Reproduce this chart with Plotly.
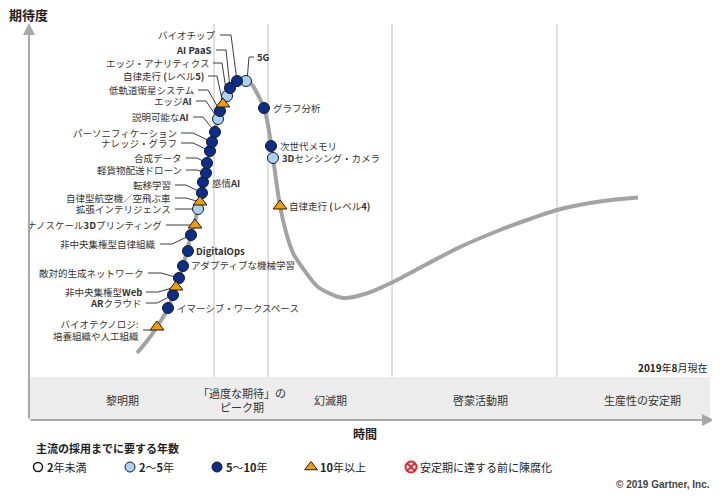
import plotly.graph_objects as go

# ---------------- data (positions, in chart units) ----------------
curve_time = [137, 147, 157, 168, 176, 183, 191, 198, 203, 207, 212, 218, 223, 230, 237, 242, 247, 253,
              258, 264, 268, 273, 280, 286, 293, 302, 318, 343, 368, 393, 427, 460, 495, 527, 557, 590, 615, 638]
curve_expect = [353, 341, 327, 308, 287, 266, 235, 209, 182, 163, 142, 119, 104, 88, 81, 78.5, 80, 86,
                95, 108, 125, 158, 206, 232, 253, 267, 287, 298, 293, 282, 264, 247, 232, 220, 210, 203, 199.5, 197.5]

tech_names = [
    "バイオテクノロジ:<br>培養組織や人工組織", "イマーシブ・ワークスペース", "<b>AR</b>クラウド", "非中央集権型<b>Web</b>",
    "敵対的生成ネットワーク", "アダプティブな機械学習", "<b>DigitalOps</b>", "非中央集権型自律組織",
    "ナノスケール<b>3D</b>プリンティング", "拡張インテリジェンス", "自律型航空機／空飛ぶ車", "転移学習",
    "感情<b>AI</b>", "軽貨物配送ドローン", "合成データ", "ナレッジ・グラフ", "パーソニフィケーション",
    "説明可能な<b>AI</b>", "エッジ<b>AI</b>", "低軌道衛星システム", "自律走行 <b>(</b>レベル<b>5)</b>",
    "エッジ・アナリティクス", "<b>AI PaaS</b>", "バイオチップ", "<b>5G</b>", "グラフ分析", "次世代メモリ",
    "<b>3D</b>センシング・カメラ", "自律走行 <b>(</b>レベル<b>4)</b>",
]
tech_time = [157, 168, 173, 176, 179, 183, 188, 191, 195, 198, 200, 202, 203, 206, 207, 210, 212,
             215, 218, 220, 223, 227, 230, 237, 246, 264, 271, 273, 280]
tech_expect = [327, 308, 295, 287, 278, 266, 251, 235, 225, 209, 202, 193, 182, 173, 163, 151, 142,
               132, 119, 111, 104, 96, 88, 81, 81, 108, 146, 158, 206]
tech_years = ["10+", "5-10", "5-10", "10+", "5-10", "5-10", "5-10", "5-10", "10+", "2-5", "10+", "5-10",
              "5-10", "5-10", "5-10", "5-10", "5-10", "5-10", "2-5", "5-10", "10+", "2-5", "5-10", "5-10",
              "2-5", "5-10", "5-10", "2-5", "10+"]

phase_names = ["黎明期", "「過度な期待」の<br>ピーク期", "幻滅期", "啓蒙活動期", "生産性の安定期"]
legend_names = ["<b>2</b>年未満", "<b>2</b>～<b>5</b>年", "<b>5</b>～<b>10</b>年", "<b>10</b>年以上", "安定期に達する前に陳腐化"]

# ---------------- layout helpers (positions / styles) ----------------
label_side = ["L", "R", "L", "L", "L", "R", "R", "L", "L", "L", "L", "L", "R", "L", "L", "L", "L",
              "L", "L", "L", "L", "L", "L", "L", "G", "R", "R", "R", "R"]
label_x = [140, 176, 143, 143, 145, 190, 195, 157, 163, 172, 172, 172, 211, 183, 183, 178, 178,
           190, 193, 195, 205, 210, 213, 217, 256, 272, 279, 281, 288]
label_y = [330, 308, 303, 292, 273, 265, 251, 244, 225, 209, 198, 185, 183, 170, 158, 143, 133,
           117, 101, 90, 76, 63, 50, 35, 57, 108, 146, 158, 206]
bend_gap = [9, 0, 11, 12, 13, 0, 0, 12, 12, 11, 11, 11, 0, 11, 11, 12, 12,
            10, 10, 10, 9, 9, 10, 11, 0, 0, 0, 0, 0]

FONT = "Noto Sans CJK JP"
TXT = "#333333"
DARK = "#0b2d8c"
LIGHT = "#a9d1f5"
ORANGE = "#f59d00"

style = {
    "<2": dict(symbol="circle", color="white", size=10),
    "2-5": dict(symbol="circle", color=LIGHT, size=11),
    "5-10": dict(symbol="circle", color=DARK, size=11),
    "10+": dict(symbol="triangle-up", color=ORANGE, size=12),
}

fig = go.Figure()

# phase dividers
shapes = []
for dx in [214, 268, 392, 557]:
    shapes.append(dict(type="line", x0=dx, x1=dx, y0=24, y1=377, xref="x", yref="y",
                       line=dict(color="#d6d6d6", width=1.5), layer="below"))
# phase band
shapes.append(dict(type="rect", x0=29, x1=710, y0=377, y1=420, xref="x", yref="y",
                   fillcolor="#ececec", line=dict(width=0), layer="below"))

# hype curve
fig.add_trace(go.Scatter(x=curve_time, y=curve_expect, mode="lines",
                         line=dict(color="#a3a3a3", width=4, shape="spline", smoothing=0.7),
                         hoverinfo="skip", showlegend=False))

# leader lines
lx_pts, ly_pts = [], []
for i in range(len(tech_names)):
    side = label_side[i]
    if side == "L":
        sx = label_x[i] + 3
        bx = sx + bend_gap[i]
        lx_pts += [sx, bx, tech_time[i], None]
        ly_pts += [label_y[i], label_y[i], tech_expect[i], None]
    elif side == "G":
        lx_pts += [tech_time[i] + 1, tech_time[i] + 3, label_x[i] - 2, None]
        ly_pts += [tech_expect[i], label_y[i], label_y[i], None]
fig.add_trace(go.Scatter(x=lx_pts, y=ly_pts, mode="lines", line=dict(color="#3c3c3c", width=1),
                         hoverinfo="skip", showlegend=False))

# technology markers
for cat in ["2-5", "5-10", "10+"]:
    idx = [i for i in range(len(tech_names)) if tech_years[i] == cat]
    st = style[cat]
    fig.add_trace(go.Scatter(
        x=[tech_time[i] for i in idx], y=[tech_expect[i] for i in idx], mode="markers",
        marker=dict(symbol=st["symbol"], color=st["color"], size=st["size"],
                    line=dict(color="#1a1a1a", width=1)),
        hoverinfo="skip", showlegend=False))

annotations = []
for i, name in enumerate(tech_names):
    side = label_side[i]
    anchor = "right" if side == "L" else "left"
    annotations.append(dict(x=label_x[i], y=label_y[i], xref="x", yref="y", text=name,
                            showarrow=False, xanchor=anchor, yanchor="middle",
                            align="right" if side == "L" else "left", borderpad=0,
                            font=dict(family=FONT, size=9.5, color=TXT)))

# axes arrows
annotations.append(dict(x=29, y=23, ax=29, ay=420, xref="x", yref="y", axref="x", ayref="y",
                        text="", showarrow=True, arrowhead=2, arrowsize=1.2, arrowwidth=2,
                        arrowcolor="#a8a8a8"))
annotations.append(dict(x=714, y=420, ax=29, ay=420, xref="x", yref="y", axref="x", ayref="y",
                        text="", showarrow=True, arrowhead=2, arrowsize=1.2, arrowwidth=2,
                        arrowcolor="#a8a8a8"))

# titles
annotations.append(dict(x=8, y=14, xref="x", yref="y", text="<b>期待度</b>", showarrow=False,
                        xanchor="left", yanchor="middle", borderpad=0,
                        font=dict(family=FONT, size=13, color="#222")))
annotations.append(dict(x=365, y=433, xref="x", yref="y", text="<b>時間</b>", showarrow=False,
                        xanchor="center", yanchor="middle", font=dict(family=FONT, size=12, color="#222")))
annotations.append(dict(x=710, y=367, xref="x", yref="y", text="<b>2019</b>年<b>8</b>月現在", showarrow=False,
                        xanchor="right", yanchor="middle", font=dict(family=FONT, size=10, color="#222")))

# phase labels
phase_x = [122, 242, 330, 480, 642]
phase_y = [400, 400, 400, 400, 400]
for name, px, py in zip(phase_names, phase_x, phase_y):
    annotations.append(dict(x=px, y=py, xref="x", yref="y", text=name, showarrow=False,
                            xanchor="center", yanchor="middle",
                            font=dict(family=FONT, size=11, color=TXT)))

# legend
annotations.append(dict(x=34, y=448, xref="x", yref="y", text="<b>主流の採用までに要する年数</b>",
                        showarrow=False, xanchor="left", yanchor="middle",
                        font=dict(family=FONT, size=11, color="#222")))
leg_x = [38, 130, 217, 311, 411]
leg_sym = [style["<2"], style["2-5"], style["5-10"], style["10+"], None]
for i, (nm, lxp, st) in enumerate(zip(legend_names, leg_x, leg_sym)):
    if i < 4:
        mk = dict(symbol=st["symbol"], color=st["color"], size=st["size"] - 1,
                  line=dict(color="#1a1a1a", width=1.5 if i == 0 else 1))
    else:
        mk = dict(symbol="circle-x-open", color="#e8202a", size=11, line=dict(color="#e8202a", width=2))
    fig.add_trace(go.Scatter(x=[lxp], y=[467], mode="markers", marker=mk,
                             hoverinfo="skip", showlegend=False))
    annotations.append(dict(x=lxp + 7, y=467, xref="x", yref="y", text=nm, showarrow=False,
                            xanchor="left", yanchor="middle",
                            font=dict(family=FONT, size=11, color="#222")))

annotations.append(dict(x=712, y=484, xref="x", yref="y", text="<b>© 2019 Gartner, Inc.</b>",
                        showarrow=False, xanchor="right", yanchor="middle",
                        font=dict(family="Liberation Sans Narrow, Liberation Sans", size=10, color="#444")))

# the page body adds an 8px offset, so the ranges start at 8 to keep units == page pixels
fig.update_layout(
    width=720, height=498, margin=dict(l=0, r=0, t=0, b=0),
    paper_bgcolor="white", plot_bgcolor="white",
    xaxis=dict(range=[8, 728], visible=False, fixedrange=True),
    yaxis=dict(range=[506, 8], visible=False, fixedrange=True),
    shapes=shapes, annotations=annotations, showlegend=False,
)

fig.write_html("out.html")
